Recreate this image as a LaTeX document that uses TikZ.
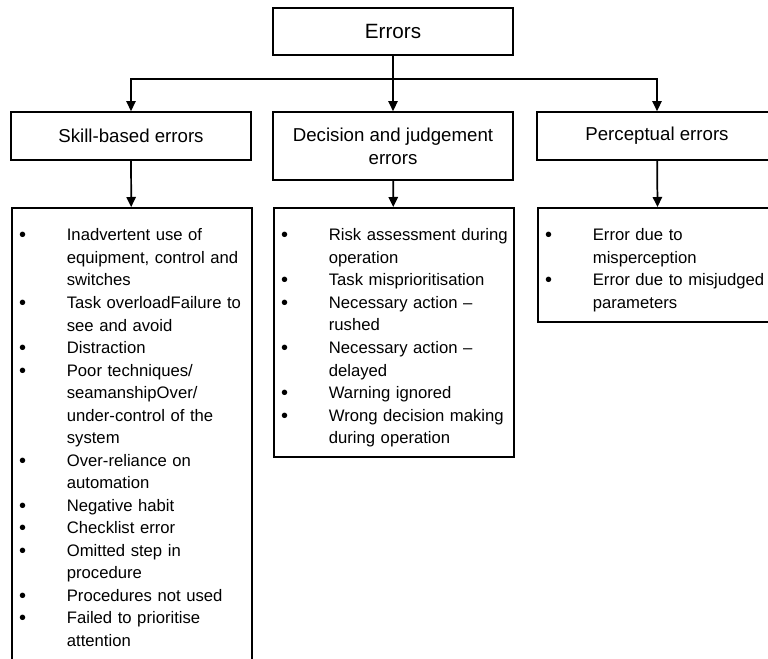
\documentclass[tikz,border=0pt]{standalone}
\usepackage{fontspec}
\setmainfont{Liberation Sans}
\usetikzlibrary{arrows.meta}

\tikzset{
  box/.style={draw, line width=1.3pt, minimum width=180pt, align=center, inner sep=2pt},
  listbox/.style={draw, line width=1.3pt, anchor=north west, text width=169pt,
    inner xsep=5.5pt, inner ysep=5pt, align=left, font=\fontsize{12.5}{16.9}\selectfont},
  arr/.style={line width=1.3pt, -{Triangle[length=7.5pt,width=7pt]}}
}
\newcommand{\topgap}{\rule{0pt}{19.75pt}}
\newcommand{\bul}{\raisebox{-0.7pt}{\fontsize{15}{16.9}\selectfont\textbullet}}

\begin{document}
\begin{tikzpicture}[x=0.75pt,y=-0.75pt]
	\useasboundingbox (0,0) rectangle (768,659);
	\clip (0,0) rectangle (768,659);
	\fill[white] (0,0) rectangle (768,659);
	% top and second level
	\node[box, minimum height=35.25pt, font=\fontsize{15.5}{18}\selectfont] (err) at (393,31.5) {Errors};
	\node[box, minimum height=36pt, font=\fontsize{14}{17.2}\selectfont] (skl) at (131,136) {Skill-based errors};
	\node[box, minimum height=51pt, font=\fontsize{14}{17.2}\selectfont] (dec) at (393,146) {Decision and judgement\\errors};
	\node[box, minimum height=36pt, font=\fontsize{14}{17.2}\selectfont] (per) at (657,136) {Perceptual errors};
	\coordinate (jn) at (393,79);
	% lists
	\node[listbox] (lst1) at (11,207) {\begin{tabular}{@{}p{35.75pt}@{}l@{}}
		\bul & \topgap Inadvertent use of\\
		 & equipment, control and\\
		 & switches\\
		\bul & Task overloadFailure to\\
		 & see and avoid\\
		\bul & Distraction\\
		\bul & Poor techniques/\\
		 & seamanshipOver/\\
		 & under-control of the\\
		 & system\\
		\bul & Over-reliance on\\
		 & automation\\
		\bul & Negative habit\\
		\bul & Checklist error\\
		\bul & Omitted step in\\
		 & procedure\\
		\bul & Procedures not used\\
		\bul & Failed to prioritise\\
		 & attention\\[40pt]
	\end{tabular}};
	\node[listbox] (lst2) at (273,207) {\begin{tabular}{@{}p{35.75pt}@{}l@{}}
		\bul & \topgap Risk assessment during\\
		 & operation\\
		\bul & Task misprioritisation\\
		\bul & Necessary action --\\
		 & rushed\\
		\bul & Necessary action --\\
		 & delayed\\
		\bul & Warning ignored\\
		\bul & Wrong decision making\\
		 & during operation
	\end{tabular}};
	\node[listbox] (lst3) at (537,207) {\begin{tabular}{@{}p{35.75pt}@{}l@{}}
		\bul & \topgap Error due to\\
		 & misperception\\
		\bul & Error due to misjudged\\
		 & parameters
	\end{tabular}};
	% connectors
	\draw[line width=1.3pt] (err) -- (jn);
	\draw[arr] (jn) -| (skl);
	\draw[arr] (jn) -- (dec);
	\draw[arr] (jn) -| (per);
	\draw[arr] (skl) -- (lst1);
	\draw[arr] (dec) -- (lst2);
	\draw[arr] (per) -- (lst3);
\end{tikzpicture}
\end{document}
